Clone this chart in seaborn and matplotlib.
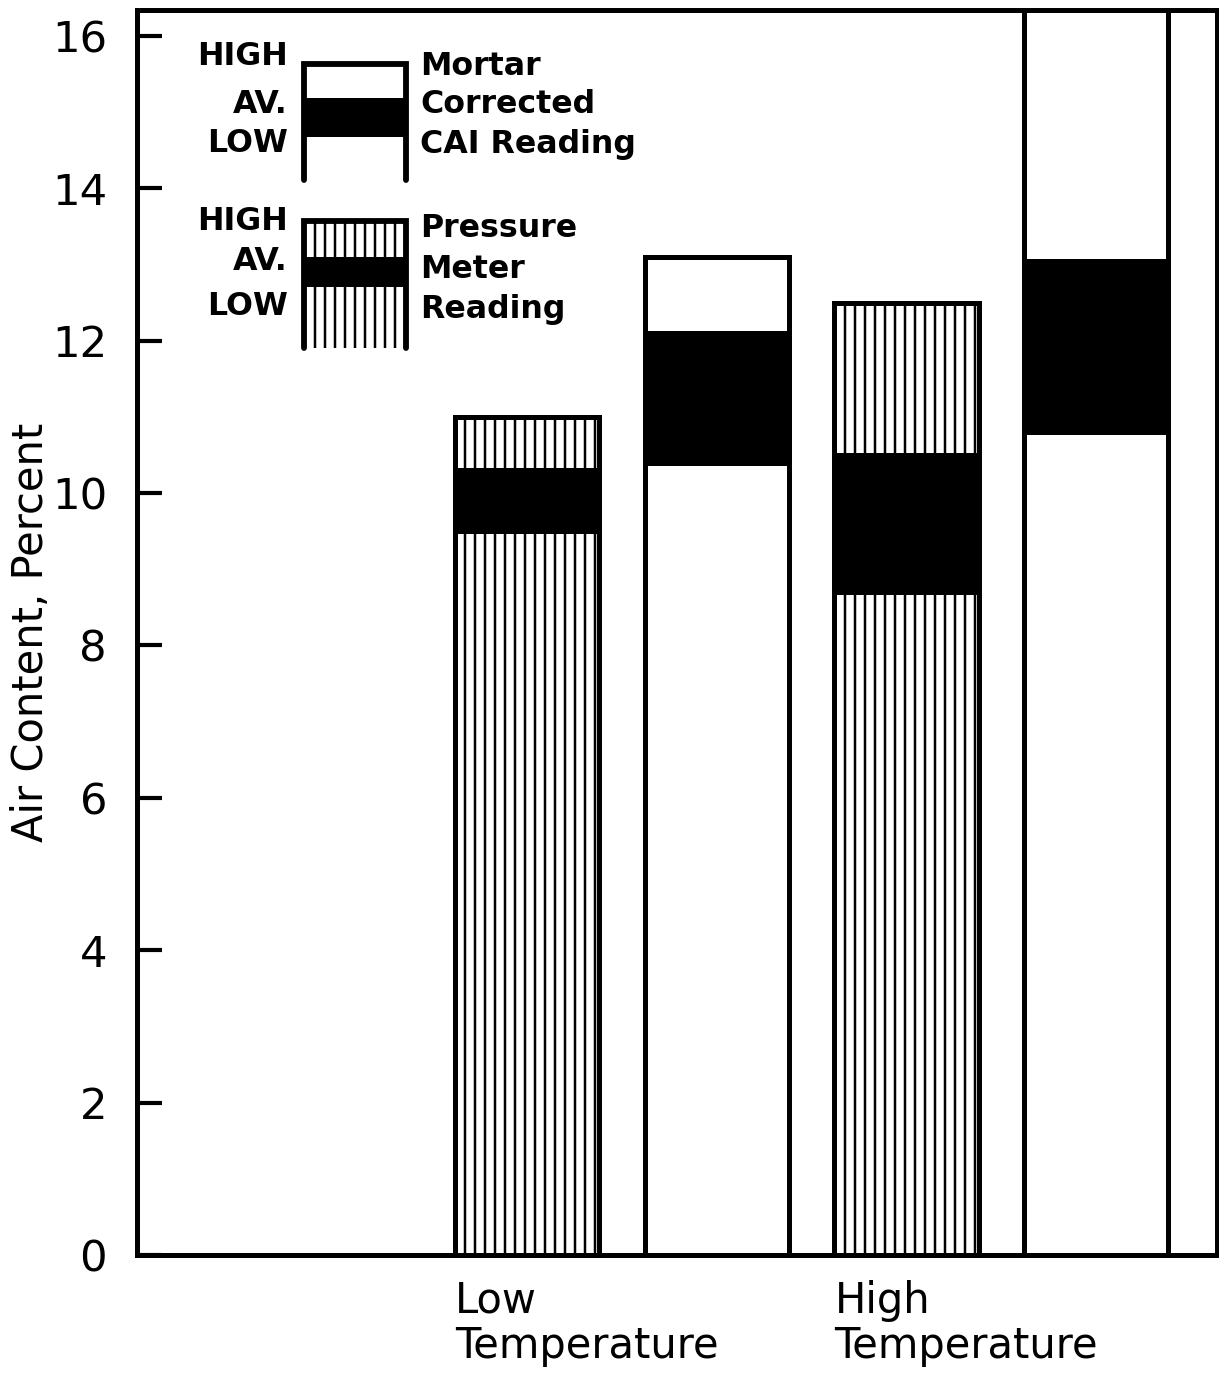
import pandas as pd
import seaborn as sns
import matplotlib.pyplot as plt
from matplotlib.patches import Rectangle

# one bar per method and temperature
bars = ["Low temp. pressure meter", "Low temp. CAI", "High temp. pressure meter", "High temp. CAI"]
methods = ["pressure", "cai", "pressure", "cai"]
high = [11.0, 13.1, 12.5, 17.0]
average = [10.3, 12.1, 10.5, 13.05]
low = [9.5, 10.4, 8.7, 10.8]
yticks = [0, 2, 4, 6, 8, 10, 12, 14, 16]
group_labels = ["Low\nTemperature", "High\nTemperature"]
group_first_bar = [0, 2]

df = pd.DataFrame({"bar": bars, "method": methods, "high": high,
                   "average": average, "low": low})

sns.set_style("ticks")
plt.rcParams["font.family"] = ["DejaVu Sans"]
plt.rcParams["hatch.linewidth"] = 1.5
for k in ["text.color", "axes.labelcolor", "xtick.color", "ytick.color"]:
    plt.rcParams[k] = "black"

DPI = 120
fig = plt.figure(figsize=(1219 / DPI, 1375 / DPI), dpi=DPI)
ax = fig.add_axes([0.1124, 0.0873, 0.886, 0.9054])
BAR_W = 0.76


def layer(col, fill, hatched):
    n0 = len(ax.patches)
    sns.barplot(data=df, x="bar", y=col, order=bars, width=BAR_W, color=fill,
                saturation=1, edgecolor="black", linewidth=3.0,
                errorbar=None, ax=ax)
    for p, m in zip(ax.patches[n0:], df["method"]):
        if hatched and m == "pressure":
            p.set_hatch("||")


layer("high", "white", True)
layer("average", "black", False)
layer("low", "white", True)

ax.set_xlim(-2.056, 3.637)
ax.set_ylim(0, 16.34)
ax.set_yticks(yticks)
ax.set_xticks([])
ax.set_xlabel("")
ax.set_ylabel("Air Content, Percent", fontsize=25)
ax.yaxis.set_label_coords(-0.079, 0.5)
ax.tick_params(axis="y", direction="in", length=15, width=2.5,
               labelsize=26, pad=18)
for s in ax.spines.values():
    s.set_visible(True)
    s.set_linewidth(3)
    s.set_color("black")

# group captions under the bars
for lab, i in zip(group_labels, group_first_bar):
    ax.text(i - BAR_W / 2, -0.02, lab, transform=ax.get_xaxis_transform(),
            ha="left", va="top", fontsize=25, linespacing=1.1)

# hand-drawn style key
T = ax.transAxes
x0, x1 = 0.1542, 0.2495
kw = dict(transform=T, clip_on=False)

# Mortar corrected CAI key
ax.add_patch(Rectangle((x0, 0.8980), x1 - x0, 0.0313, facecolor="black",
                       edgecolor="black", linewidth=0, **kw))
ax.plot([x0, x0, x1, x1], [0.8635, 0.9570, 0.9570, 0.8635], color="black",
        lw=3.5, solid_joinstyle="miter", **kw)

# Pressure meter key
ax.add_patch(Rectangle((x0, 0.8016), x1 - x0, 0.0293, facecolor="white",
                       edgecolor="black", linewidth=0, hatch="||", **kw))
ax.add_patch(Rectangle((x0, 0.7775), x1 - x0, 0.0241, facecolor="black",
                       edgecolor="black", linewidth=0, **kw))
ax.add_patch(Rectangle((x0, 0.7285), x1 - x0, 0.0490, facecolor="white",
                       edgecolor="black", linewidth=0, hatch="||", **kw))
ax.plot([x0, x0, x1, x1], [0.7285, 0.8309, 0.8309, 0.7285], color="black",
        lw=3.5, solid_joinstyle="miter", **kw)

key_left = [("HIGH", 0.9558), ("AV.", 0.9173), ("LOW", 0.8859),
            ("HIGH", 0.8233), ("AV.", 0.7912), ("LOW", 0.7550)]
key_right = [("Mortar", 0.9478), ("Corrected", 0.9173), ("CAI Reading", 0.8851),
             ("Pressure", 0.8177), ("Meter", 0.7847), ("Reading", 0.7526)]
for txt, y in key_left:
    ax.text(0.1398, y, txt, transform=T, ha="right", va="baseline",
            fontsize=19, fontweight="bold")
for txt, y in key_right:
    ax.text(0.2620, y, txt, transform=T, ha="left", va="baseline",
            fontsize=19, fontweight="bold")

fig.savefig("out.png", dpi=DPI)
